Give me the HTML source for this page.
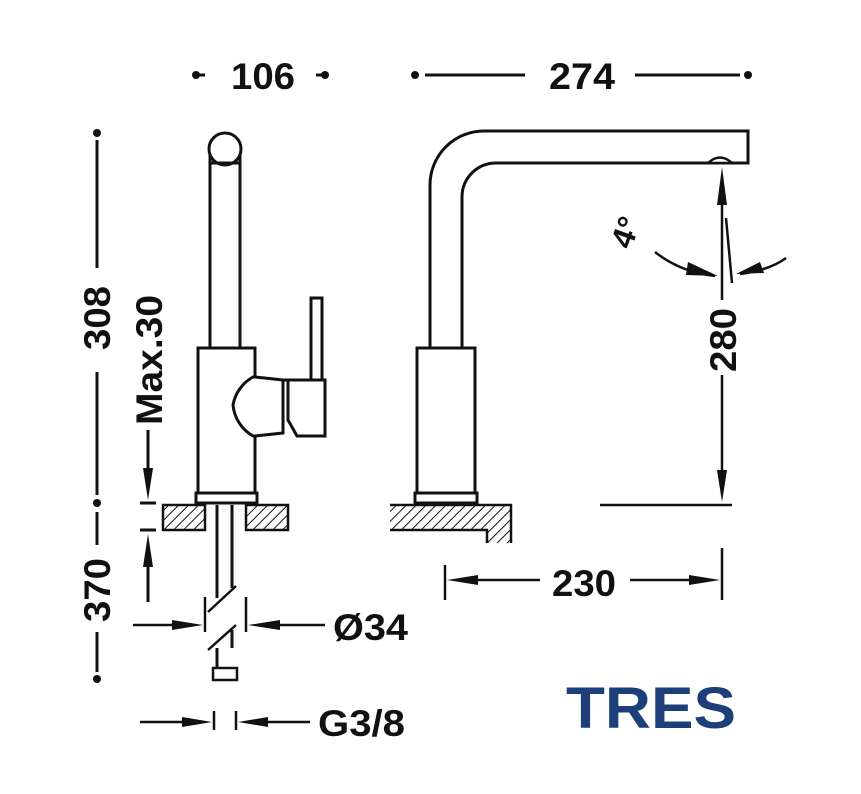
<!DOCTYPE html>
<html><head><meta charset="utf-8"><style>
html,body{margin:0;padding:0;background:#fff;}
svg{display:block}
text{font-family:"Liberation Sans",Arial,sans-serif;font-weight:bold;fill:#111}
</style></head><body>
<svg width="861" height="794" viewBox="0 0 861 794" xmlns="http://www.w3.org/2000/svg">
<defs>
<pattern id="h" width="7" height="7" patternUnits="userSpaceOnUse" patternTransform="rotate(45)">
<rect width="7" height="7" fill="#fff"/><line x1="0" y1="0" x2="0" y2="7" stroke="#111" stroke-width="2"/>
</pattern>
</defs>
<g stroke="#111" stroke-width="3" fill="none">
<line x1="196" y1="75" x2="205" y2="75"/><line x1="316" y1="75" x2="325" y2="75"/>
<line x1="425" y1="75" x2="525" y2="75"/><line x1="635" y1="75" x2="740" y2="75"/>
<line x1="97" y1="140" x2="97" y2="268"/><line x1="97" y1="372" x2="97" y2="495"/>
<line x1="97" y1="512" x2="97" y2="545"/><line x1="97" y1="632" x2="97" y2="672"/>
<line x1="148" y1="430" x2="148" y2="470"/>
<line x1="140" y1="503" x2="156" y2="503"/><line x1="140" y1="530" x2="156" y2="530"/>
<line x1="148" y1="565" x2="148" y2="602"/>
</g>
<g fill="#111">
<circle cx="196" cy="75" r="4"/><circle cx="325" cy="75" r="4"/>
<circle cx="415" cy="75" r="4"/><circle cx="748" cy="75" r="4"/>
<circle cx="97" cy="133" r="4"/><circle cx="97" cy="503" r="4"/><circle cx="97" cy="679" r="4"/>
<polygon points="143,468 153,468 148,500"/>
<polygon points="143,567 153,567 148,534"/>
</g>
<text x="263" y="89" font-size="37" text-anchor="middle" textLength="64" lengthAdjust="spacingAndGlyphs">106</text>
<text x="582" y="89" font-size="37" text-anchor="middle" textLength="66" lengthAdjust="spacingAndGlyphs">274</text>
<text transform="translate(110,318) rotate(-90)" font-size="37" text-anchor="middle" textLength="64" lengthAdjust="spacingAndGlyphs">308</text>
<text transform="translate(110,590) rotate(-90)" font-size="37" text-anchor="middle" textLength="64" lengthAdjust="spacingAndGlyphs">370</text>
<text transform="translate(162,360) rotate(-90)" font-size="37" text-anchor="middle" textLength="130" lengthAdjust="spacingAndGlyphs">Max.30</text>

<g stroke="#111" stroke-width="2.5">
<path d="M163 505 H205 V530 H163 Z" fill="url(#h)"/>
<path d="M246 505 H288 V530 H246 Z" fill="url(#h)"/>
<path d="M390 505 H511 V543 H487 V530 H390 Z" fill="url(#h)" stroke="none"/>
<path d="M390 505 H511 V543 M487 543 V530 H390" fill="none"/>
</g>

<g stroke="#111" stroke-width="3" fill="#fff">
<path d="M210 348 V150 M240 150 V348" fill="none"/>
<circle cx="225" cy="149" r="16"/>
<path d="M211 163 H239"/>
<rect x="311" y="298" width="11" height="82"/>
<path d="M198 348 H255 V377 L253 377 A40 40 0 0 0 233 405 A40 40 0 0 0 253 436 L255 436 V493 H198 Z"/>
<path d="M255 377 L283 380 V433 L255 436"/>
<path d="M283 380 H325 V436 H297 L288 420 V380"/>
<rect x="196" y="493" width="61" height="10"/>
<path d="M217 505 V598 M232 505 V588 M217 648 V670 M232 648 V630" fill="none"/>
<path d="M208 612 L236 586 M208 650 L236 625" fill="none" stroke-width="2.5"/>
<rect x="213" y="668" width="24" height="12" stroke-width="2.5"/>
</g>

<g stroke="#111" stroke-width="3" fill="none">
<path d="M430 348 V185 A54 54 0 0 1 484 131 H748 V163 H496 A34 34 0 0 0 462 197 V348"/>
<path d="M708 163 Q720 152 732 163 Z" fill="#fff" stroke-width="2.5"/>
<rect x="417" y="348" width="58" height="145" fill="#fff"/>
<rect x="415" y="493" width="62" height="10" fill="#fff"/>
</g>

<g stroke="#111" stroke-width="2.5" fill="none">
<line x1="722" y1="200" x2="722" y2="300"/><line x1="722" y1="375" x2="722" y2="470"/>
<line x1="600" y1="505" x2="732" y2="505"/>
<line x1="726" y1="218" x2="732" y2="283"/>
<path d="M655 252 Q680 272 715 276"/>
<path d="M786 258 Q770 270 740 274"/>
<line x1="445" y1="565" x2="445" y2="600"/><line x1="722" y1="548" x2="722" y2="600"/>
<line x1="476" y1="580" x2="540" y2="580"/><line x1="630" y1="580" x2="690" y2="580"/>
<line x1="133" y1="625" x2="175" y2="625"/><line x1="205" y1="597" x2="205" y2="632"/>
<line x1="246" y1="597" x2="246" y2="632"/><line x1="280" y1="625" x2="325" y2="625"/>
<line x1="140" y1="722" x2="185" y2="722"/><line x1="214" y1="711" x2="214" y2="730"/>
<line x1="236" y1="711" x2="236" y2="730"/><line x1="266" y1="722" x2="310" y2="722"/>
</g>
<g fill="#111">
<polygon points="717,205 727,205 722,167"/>
<polygon points="717,470 727,470 722,502"/>
<polygon points="688,262 718,276 686,275"/>
<polygon points="760,262 736,274 764,273"/>
<polygon points="447,580 478,575 478,585"/>
<polygon points="720,580 689,575 689,585"/>
<polygon points="203,625 172,620 172,630"/>
<polygon points="248,625 280,620 280,630"/>
<polygon points="212,722 182,717 182,727"/>
<polygon points="238,722 268,717 268,727"/>
</g>
<text transform="translate(736,340) rotate(-90)" font-size="37" text-anchor="middle" textLength="64" lengthAdjust="spacingAndGlyphs">280</text>
<text x="584" y="596" font-size="37" text-anchor="middle" textLength="64" lengthAdjust="spacingAndGlyphs">230</text>
<text transform="translate(636,236) rotate(-70)" font-size="32" text-anchor="middle">4°</text>
<text x="333" y="640" font-size="37" textLength="75" lengthAdjust="spacingAndGlyphs">Ø34</text>
<text x="318" y="736" font-size="37" textLength="87" lengthAdjust="spacingAndGlyphs">G3/8</text>
<text x="566" y="728" font-size="58" style="fill:#1c3f7a;font-weight:bold" textLength="170" lengthAdjust="spacingAndGlyphs">TRES</text>
</svg>
</body></html>
